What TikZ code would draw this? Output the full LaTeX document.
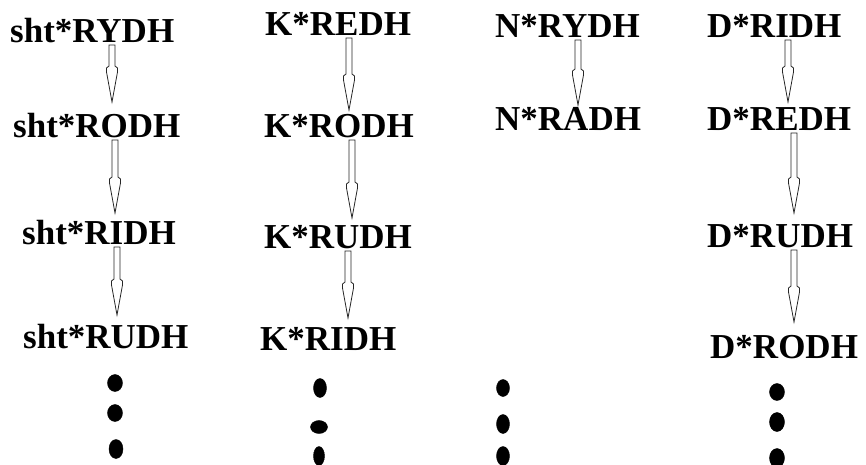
\documentclass[tikz,border=0pt]{standalone}
\usepackage{fontspec}
\setmainfont{Liberation Serif}
\usetikzlibrary{calc}

\tikzset{
  lbl/.style={anchor=base west, inner sep=0pt, font=\fontsize{35}{40}\selectfont\bfseries},
  hollow/.style={draw=black!85, line width=0.8pt, line join=miter,
    to path={let \p1=(\tikztostart), \p2=(\tikztotarget) in
      (\x1-3pt,\y1-3pt) -- (\x1-3pt,\y2+36pt) -- (\x1-5.5pt,\y2+34pt) -- (\x1-5.5pt,\y2+30pt)
      -- (\x1,\y2) -- (\x1+5.5pt,\y2+30pt) -- (\x1+5.5pt,\y2+34pt) -- (\x1+3pt,\y2+36pt)
      -- (\x1+3pt,\y1-3pt) -- cycle}},
  dot/.style={fill=black}
}

\begin{document}
\begin{tikzpicture}[x=1pt,y=-1pt]
    \useasboundingbox (0,0) rectangle (866,464);

    % sht column
    \node[lbl] (s1) at (10,42)  {sht*RYDH};
    \node[lbl] (s2) at (13,137) {sht*RODH};
    \node[lbl] (s3) at (22,244) {sht*RIDH};
    \node[lbl] (s4) at (23,348) {sht*RUDH};
    \draw[hollow] (s1.base -| 112,0) to (112,102);
    \draw[hollow] (s2.base -| 115,0) to (115,213);
    \draw[hollow] (s3.base -| 117,0) to (117,315);
    \filldraw[dot] (115,383) ellipse (7.5 and 8.5);
    \filldraw[dot] (115,413) ellipse (7.5 and 8.5);
    \filldraw[dot] (116,449) ellipse (7 and 9.5);

    % K column
    \node[lbl] (k1) at (265,35)  {K*REDH};
    \node[lbl] (k2) at (264,137) {K*RODH};
    \node[lbl] (k3) at (264,248) {K*RUDH};
    \node[lbl] (k4) at (260,350) {K*RIDH};
    \draw[hollow] (k1.base -| 349,0) to (349,110);
    \draw[hollow] (k2.base -| 352,0) to (352,218);
    \draw[hollow] (k3.base -| 348,0) to (348,318);
    \filldraw[dot] (320,388) ellipse (6.5 and 9.5);
    \filldraw[dot] (319,427) ellipse (8.5 and 6.5);
    \filldraw[dot] (319,456) ellipse (5.5 and 9.5);

    % N column
    \node[lbl] (n1) at (495,37)  {N*RYDH};
    \node[lbl] (n2) at (495,130) {N*RADH};
    \draw[hollow] (n1.base -| 578,0) to (578,105);
    \filldraw[dot] (503,388) ellipse (6.5 and 8.5);
    \filldraw[dot] (503,424) ellipse (6.5 and 9.5);
    \filldraw[dot] (503,456) ellipse (6.5 and 9.5);

    % D column
    \node[lbl] (d1) at (707,37)  {D*RIDH};
    \node[lbl] (d2) at (707,130) {D*REDH};
    \node[lbl] (d3) at (707,247) {D*RUDH};
    \node[lbl] (d4) at (710,358) {D*RODH};
    \draw[hollow] (d1.base -| 788,0) to (788,102);
    \draw[hollow] (d2.base -| 794,0) to (794,213);
    \draw[hollow] (d3.base -| 794,0) to (794,322);
    \filldraw[dot] (777,392) ellipse (7.5 and 8.5);
    \filldraw[dot] (777,422) ellipse (7.5 and 9.5);
    \filldraw[dot] (777,458) ellipse (7.5 and 9.5);
\end{tikzpicture}
\end{document}
